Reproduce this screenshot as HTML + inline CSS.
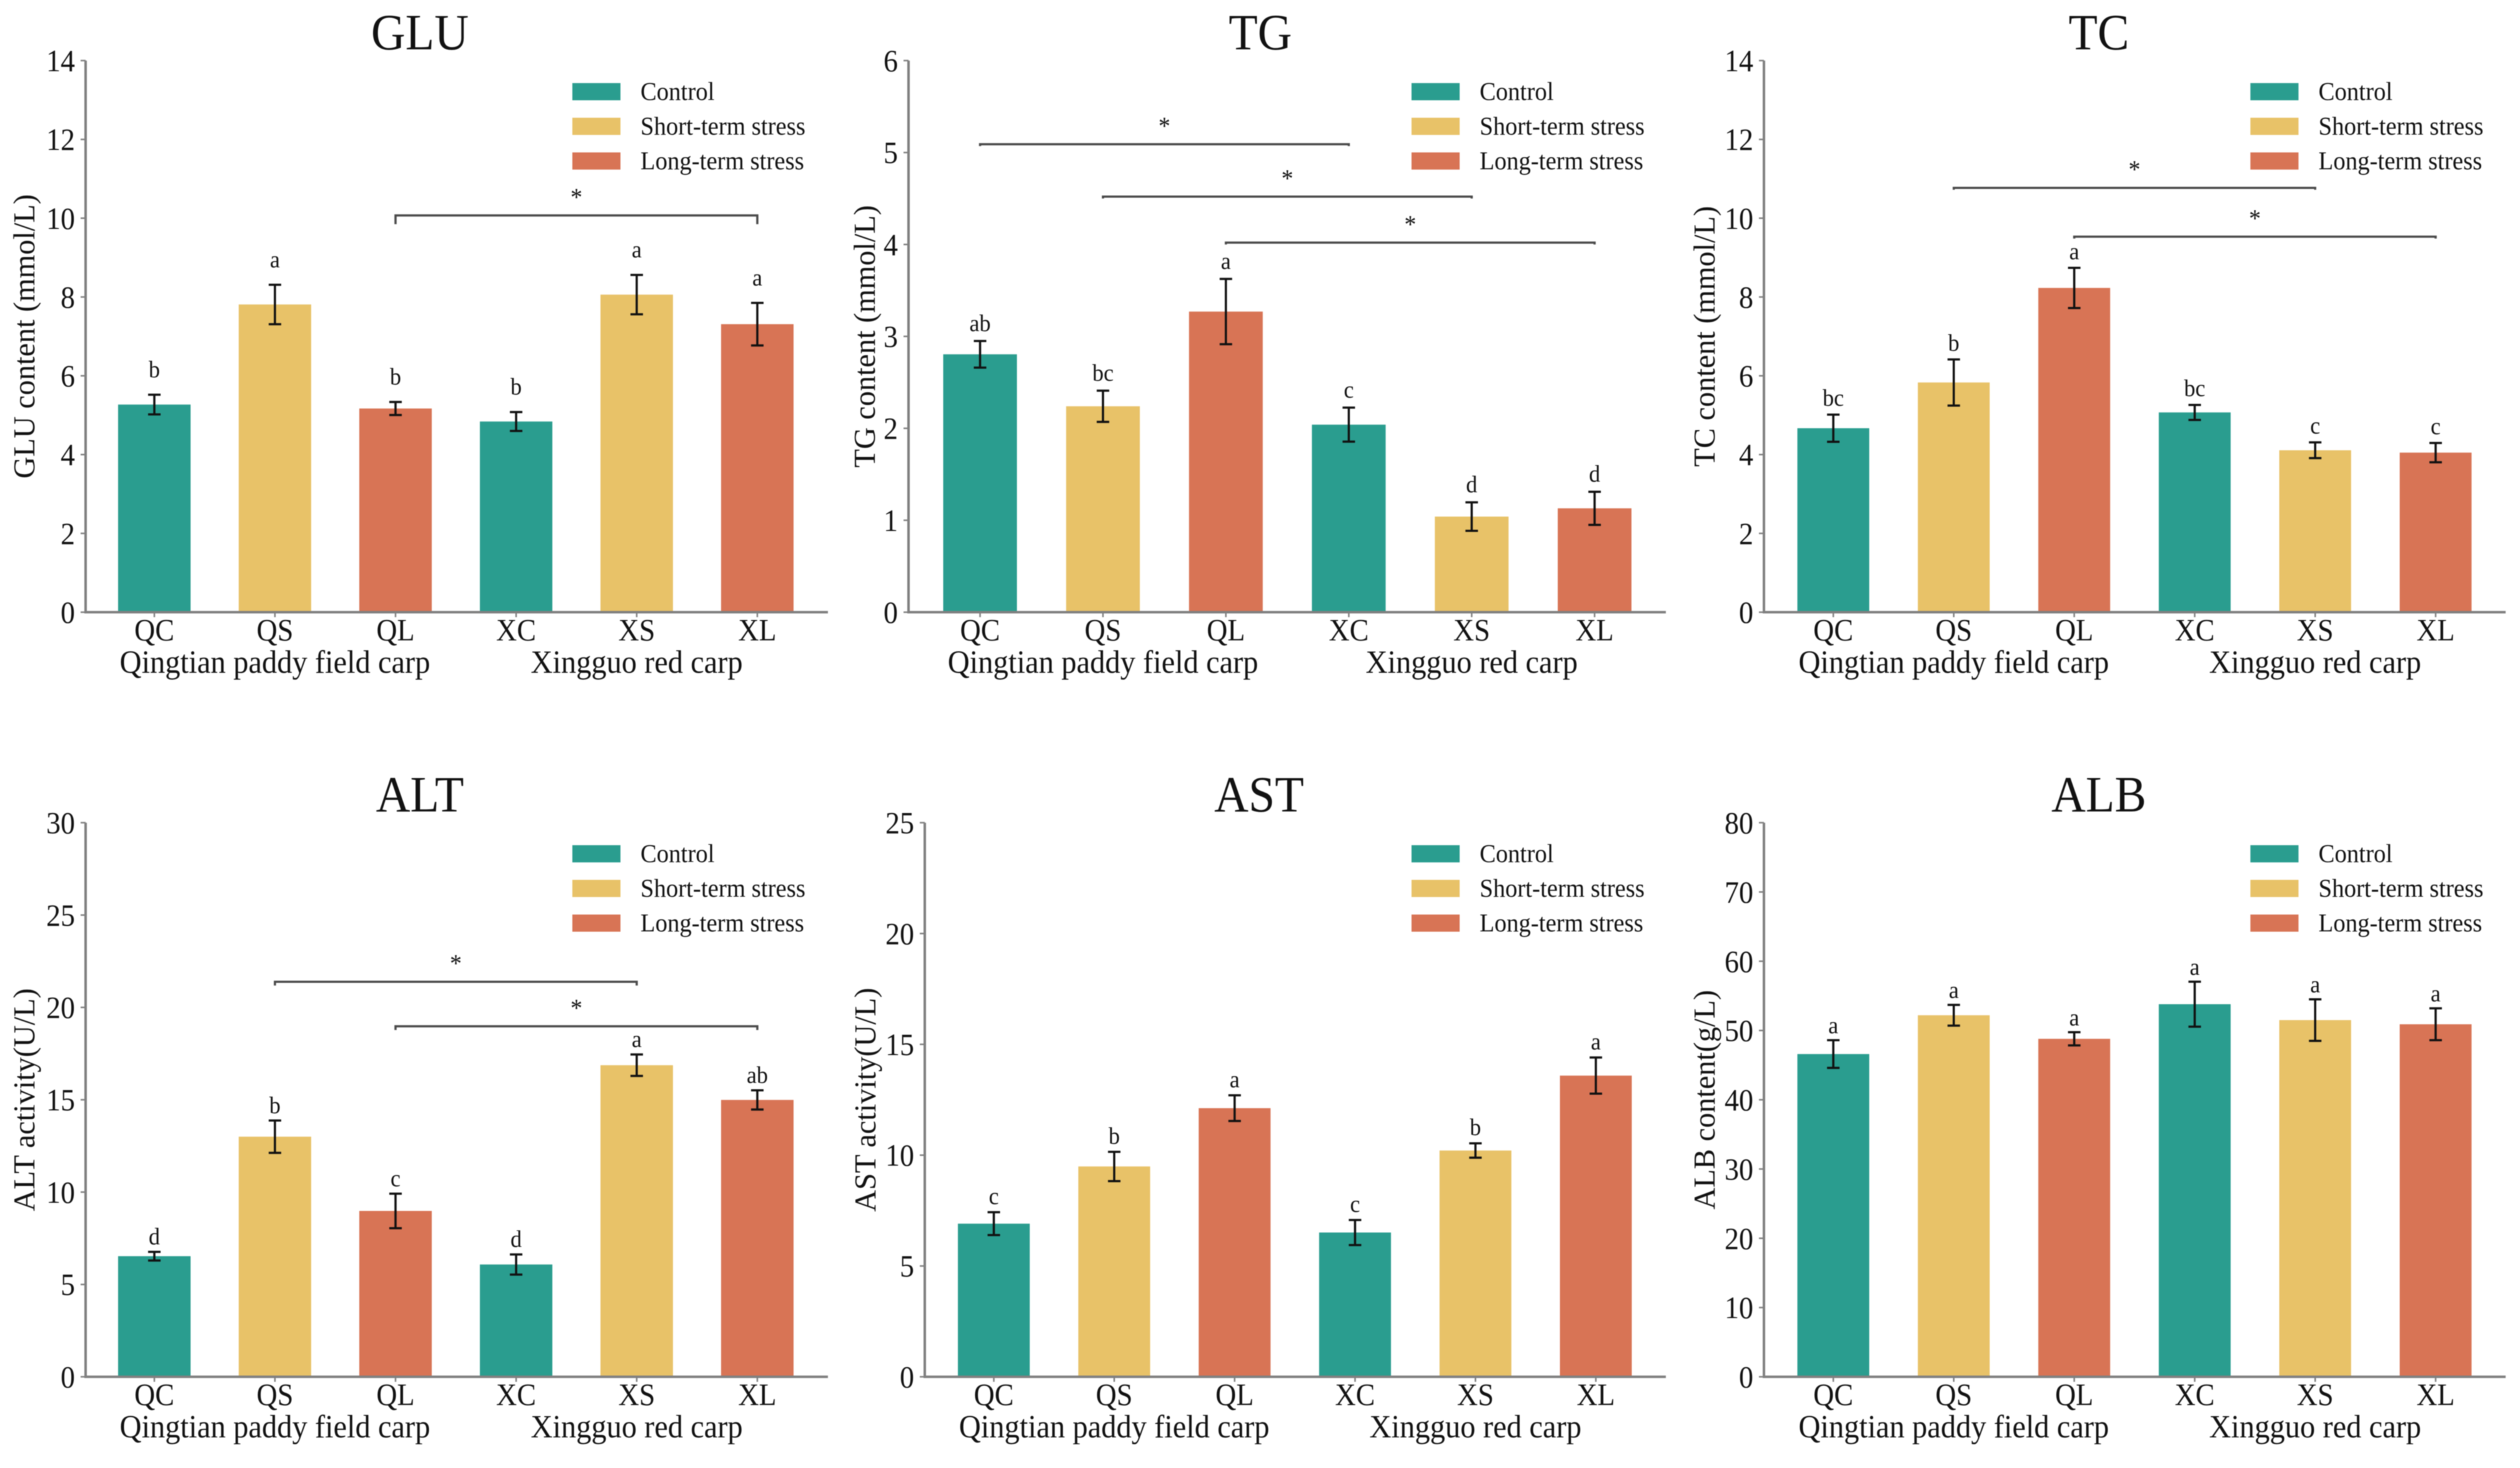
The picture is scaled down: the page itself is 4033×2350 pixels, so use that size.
<!DOCTYPE html>
<html lang="en">
<head>
<meta charset="utf-8">
<title>Serum biochemical indices of carp under stress</title>
<style>
html,body{margin:0;padding:0;background:#fff;}
svg{display:block;filter:blur(0.9px);}
text{font-family:"Liberation Serif","Times New Roman",serif;fill:#111111;}
</style>
</head>
<body>
<svg id="figure" xmlns="http://www.w3.org/2000/svg" width="4033" height="2350" viewBox="0 0 4033 2350">
<rect x="0" y="0" width="4033" height="2350" fill="#ffffff"/>
</svg>
<script>
const categories = ['QC', 'QS', 'QL', 'XC', 'XS', 'XL'];
const groupLabels = ['Qingtian paddy field carp', 'Xingguo red carp'];
const legendLabels = ['Control', 'Short-term stress', 'Long-term stress'];

const gluMeans = [5.27, 7.81, 5.17, 4.84, 8.06, 7.31];
const gluErrors = [0.25, 0.50, 0.165, 0.24, 0.50, 0.54];
const gluLetters = ['b', 'a', 'b', 'b', 'a', 'a'];
const gluTicks = ['0', '2', '4', '6', '8', '10', '12', '14'];
const gluBrackets = [[2, 5, 10.07]];

const tgMeans = [2.805, 2.24, 3.27, 2.04, 1.04, 1.13];
const tgErrors = [0.145, 0.17, 0.355, 0.185, 0.155, 0.18];
const tgLetters = ['ab', 'bc', 'a', 'c', 'd', 'd'];
const tgTicks = ['0', '1', '2', '3', '4', '5', '6'];
const tgBrackets = [[0, 3, 5.09], [1, 4, 4.52], [2, 5, 4.02]];

const tcMeans = [4.67, 5.83, 8.23, 5.07, 4.11, 4.05];
const tcErrors = [0.345, 0.585, 0.51, 0.19, 0.2, 0.245];
const tcLetters = ['bc', 'b', 'a', 'bc', 'c', 'c'];
const tcTicks = ['0', '2', '4', '6', '8', '10', '12', '14'];
const tcBrackets = [[1, 4, 10.77], [2, 5, 9.53]];

const altMeans = [6.53, 13.0, 8.98, 6.08, 16.87, 14.99];
const altErrors = [0.235, 0.875, 0.935, 0.545, 0.58, 0.52];
const altLetters = ['d', 'b', 'c', 'd', 'a', 'ab'];
const altTicks = ['0', '5', '10', '15', '20', '25', '30'];
const altBrackets = [[1, 4, 21.39], [2, 5, 18.98]];

const astMeans = [6.91, 9.49, 12.12, 6.51, 10.21, 13.59];
const astErrors = [0.515, 0.66, 0.58, 0.565, 0.325, 0.815];
const astLetters = ['c', 'b', 'a', 'c', 'b', 'a'];
const astTicks = ['0', '5', '10', '15', '20', '25'];
const astBrackets = [];

const albMeans = [46.6, 52.2, 48.8, 53.8, 51.5, 50.9];
const albErrors = [2.0, 1.5, 0.95, 3.25, 3.0, 2.3];
const albLetters = ['a', 'a', 'a', 'a', 'a', 'a'];
const albTicks = ['0', '10', '20', '30', '40', '50', '60', '70', '80'];
const albBrackets = [];

const treatmentColors = ['#2a9d8f', '#e8c268', '#d87455'];
const NS = 'http://www.w3.org/2000/svg';
const STRETCH = 1.07;
const figure = document.getElementById('figure');

function shape(parent, tag, attrs) {
  const node = document.createElementNS(NS, tag);
  for (const k in attrs) node.setAttribute(k, attrs[k]);
  parent.appendChild(node);
  return node;
}
function label(parent, x, y, str, size, anchor) {
  const node = shape(parent, 'text', {
    transform: 'translate(' + x + ',' + y + ') scale(1,' + STRETCH + ')',
    'font-size': size,
    'text-anchor': anchor
  });
  node.textContent = str;
  return node;
}

function drawPanel(p) {
  const yScale = v => p.bottom - (v / p.yMax) * (p.bottom - p.top);
  const xScale = i => p.firstCenter + p.step * i;

  const g = shape(figure, 'g', {});
  
  

  const title = label(g, p.titleX, p.top - 18, p.title, 76, 'middle');
  
  

  const yTitle = shape(g, 'text', {
    transform: 'translate(' + p.yTitleX + ',' + (p.top + p.bottom) / 2 + ') rotate(-90)',
    'font-size': 48.5,
    'text-anchor': 'middle'
  });
  yTitle.textContent = p.yLabel;
  
  

  p.means.forEach((m, i) => {
    const cat = categories[i];
    const bar = shape(g, 'rect', {
      x: xScale(i) - p.barWidth / 2,
      y: yScale(m),
      width: p.barWidth,
      height: p.bottom - yScale(m),
      fill: treatmentColors[i % 3]
    });
    
    
  });

  const yAxis = shape(g, 'line', { x1: p.axisX, x2: p.axisX, y1: p.top, y2: p.bottom + 2, stroke: '#808080', 'stroke-width': 4 });
  
  

  const xAxis = shape(g, 'line', { x1: p.axisX - 2, x2: p.spineEnd, y1: p.bottom, y2: p.bottom, stroke: '#808080', 'stroke-width': 4 });
  
  

  p.ticks.forEach(t => {
    const y = yScale(Number(t));
    const mark = shape(g, 'line', { x1: p.axisX - 8, x2: p.axisX, y1: y, y2: y, stroke: '#808080', 'stroke-width': 2.5 });
    
    
    const txt = label(g, p.axisX - 17, y + 17, t, 46, 'end');
    
    
  });

  categories.forEach((cat, i) => {
    const x = xScale(i);
    const mark = shape(g, 'line', { x1: x, x2: x, y1: p.bottom, y2: p.bottom + 8, stroke: '#808080', 'stroke-width': 2.5 });
    
    
    const txt = label(g, x, p.bottom + 45, cat, 46, 'middle');
    
    
  });

  groupLabels.forEach((str, i) => {
    const txt = label(g, xScale(1 + i * 3), p.bottom + 97, str, 48.5, 'middle');
    
    
  });

  p.means.forEach((m, i) => {
    const cat = categories[i];
    const x = xScale(i);
    const hi = yScale(m + p.errors[i]);
    const lo = yScale(m - p.errors[i]);
    const stem = shape(g, 'path', {
      d: 'M' + (x - 10) + ' ' + hi + 'H' + (x + 10) + 'M' + x + ' ' + hi + 'V' + lo + 'M' + (x - 10) + ' ' + lo + 'H' + (x + 10),
      fill: 'none',
      stroke: '#111111',
      'stroke-width': 3.5
    });
    
    
    const letter = label(g, x, hi - p.letterGap - 2, p.letters[i], 36, 'middle');
    
    
  });

  p.brackets.forEach((b, i) => {
    const x0 = xScale(b[0]);
    const x1 = xScale(b[1]);
    const y = yScale(b[2]);
    const path = shape(g, 'path', {
      d: 'M' + x0 + ' ' + (y + p.bracketDrop) + 'V' + y + 'H' + x1 + 'V' + (y + p.bracketDrop),
      fill: 'none',
      stroke: '#4a4a4a',
      'stroke-width': 3.5
    });
    
    
    const star = label(g, (x0 + x1) / 2, y - 16, '*', 38, 'middle');
    
    
  });

  legendLabels.forEach((str, i) => {
    const y = p.top + 36 + i * 55.5;
    const patch = shape(g, 'rect', { x: p.legendX, y: y, width: 77, height: 27.5, fill: treatmentColors[i] });
    
    
    const txt = label(g, p.legendX + 109, y + 27, str, 38.8, 'start');
    
    
  });
}

const topRow = { top: 97, bottom: 980 };
const bottomRow = { top: 1317, bottom: 2204 };
const leftCol = { axisX: 137, firstCenter: 247, step: 193, barWidth: 116, spineEnd: 1325, titleX: 672, yTitleX: 55, legendX: 916 };
const midCol = { axisX: 1454, firstCenter: 1568.5, step: 196.7, barWidth: 118, spineEnd: 2666, titleX: 2017, yTitleX: 1400, legendX: 2259 };
const midColLower = { axisX: 1480, firstCenter: 1590.5, step: 192.7, barWidth: 115, spineEnd: 2666, titleX: 2015, yTitleX: 1401, legendX: 2259 };
const rightCol = { axisX: 2823, firstCenter: 2934, step: 192.8, barWidth: 115, spineEnd: 4010, titleX: 3359, yTitleX: 2744, legendX: 3601.5 };

drawPanel({ ...topRow, ...leftCol, key: 'glu', title: 'GLU', yLabel: 'GLU content (mmol/L)', yMax: 14,
  means: gluMeans, errors: gluErrors, letters: gluLetters, ticks: gluTicks, brackets: gluBrackets, letterGap: 26, bracketDrop: 14 });
drawPanel({ ...topRow, ...midCol, key: 'tg', title: 'TG', yLabel: 'TG content (mmol/L)', yMax: 6,
  means: tgMeans, errors: tgErrors, letters: tgLetters, ticks: tgTicks, brackets: tgBrackets, letterGap: 14, bracketDrop: 3 });
drawPanel({ ...topRow, ...rightCol, key: 'tc', title: 'TC', yLabel: 'TC content (mmol/L)', yMax: 14,
  means: tcMeans, errors: tcErrors, letters: tcLetters, ticks: tcTicks, brackets: tcBrackets, letterGap: 12, bracketDrop: 3 });
drawPanel({ ...bottomRow, ...leftCol, key: 'alt', title: 'ALT', yLabel: 'ALT activity(U/L)', yMax: 30,
  means: altMeans, errors: altErrors, letters: altLetters, ticks: altTicks, brackets: altBrackets, letterGap: 10, bracketDrop: 6 });
drawPanel({ ...bottomRow, ...midColLower, key: 'ast', title: 'AST', yLabel: 'AST activity(U/L)', yMax: 25,
  means: astMeans, errors: astErrors, letters: astLetters, ticks: astTicks, brackets: astBrackets, letterGap: 11, bracketDrop: 3 });
drawPanel({ ...bottomRow, ...rightCol, key: 'alb', title: 'ALB', yLabel: 'ALB content(g/L)', yMax: 80,
  means: albMeans, errors: albErrors, letters: albLetters, ticks: albTicks, brackets: albBrackets, letterGap: 9, bracketDrop: 3 });
</script>
</body>
</html>
